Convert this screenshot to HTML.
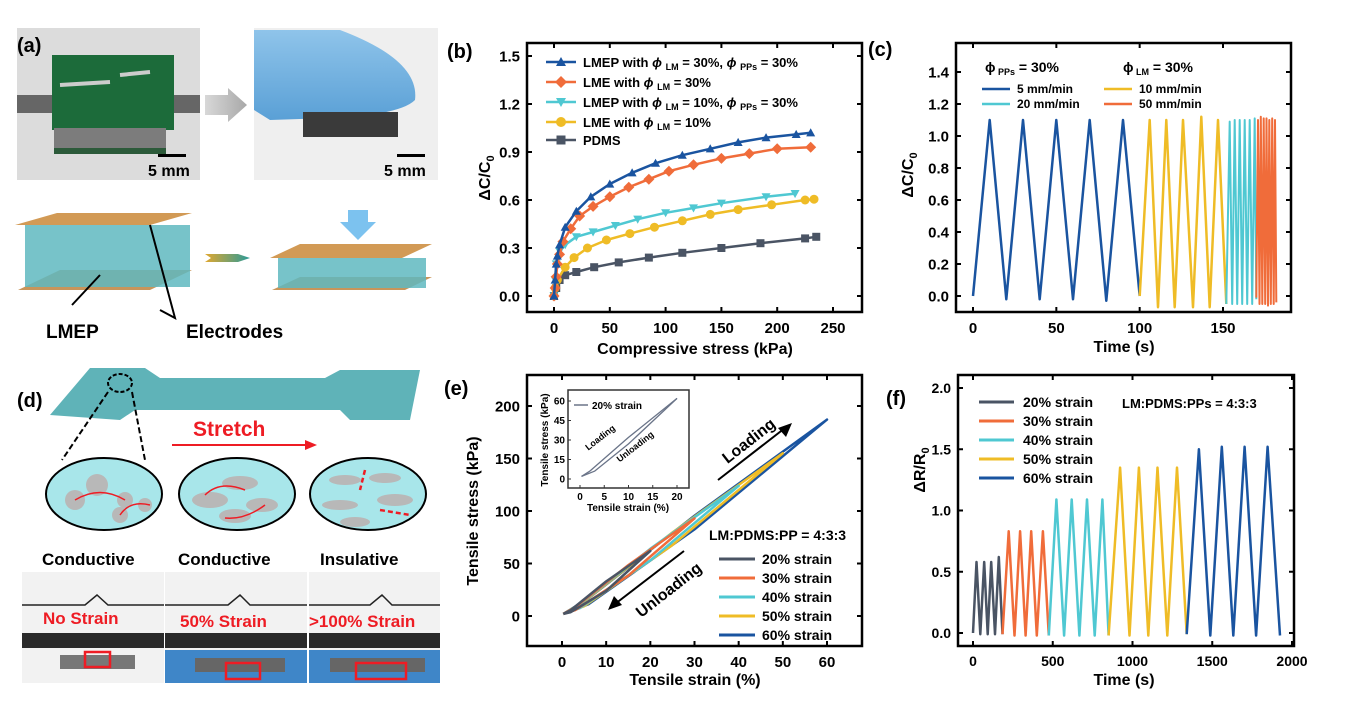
<!DOCTYPE html>
<html><head><meta charset="utf-8"><style>
html,body{margin:0;padding:0;background:#fff;}
svg{display:block;font-family:"Liberation Sans",Arial,sans-serif;font-weight:bold;}
</style></head><body>
<svg id="fig" width="1359" height="708" viewBox="0 0 1359 708" xmlns="http://www.w3.org/2000/svg">
<defs>
<linearGradient id="grayArrow" x1="0" x2="1"><stop offset="0" stop-color="#d8d8d8"/><stop offset="1" stop-color="#a8a8a8"/></linearGradient>
<linearGradient id="glove" x1="0" y1="0" x2="0" y2="1"><stop offset="0" stop-color="#8fc4ea"/><stop offset="1" stop-color="#5aa0d6"/></linearGradient>
<linearGradient id="tealArrow" x1="0" x2="1"><stop offset="0" stop-color="#e0a830"/><stop offset="1" stop-color="#2a9a98"/></linearGradient>
</defs>
<g>
 <rect x="17" y="28" width="183" height="152" fill="#dcdcdc"/>
 <rect x="17" y="95" width="183" height="18" fill="#333" opacity="0.7"/>
 <rect x="52" y="55" width="122" height="75" fill="#1c6b3a"/>
 <rect x="54" y="128" width="112" height="22" fill="#7c7c7c"/>
 <rect x="54" y="148" width="112" height="6" fill="#2c5a3a"/>
 <path d="M60 85 L110 82 M120 75 L150 72" stroke="#ccc" stroke-width="4"/>
 <rect x="158" y="154" width="28" height="3" fill="#000"/>
 <text x="148" y="176" font-size="16">5 mm</text>
 <text x="17" y="52" font-size="20">(a)</text>
 <polygon points="205,95 228,95 228,88 247,105 228,122 228,115 205,115" fill="url(#grayArrow)"/>
 <rect x="254" y="28" width="184" height="152" fill="#efefef"/>
 <path d="M254 30 L340 30 Q420 60 415 100 Q400 115 330 118 L270 120 L254 110 Z" fill="url(#glove)"/>
 <rect x="303" y="112" width="95" height="25" fill="#3a3a3a"/>
 <rect x="397" y="154" width="28" height="3" fill="#000"/>
 <text x="384" y="176" font-size="16">5 mm</text>
 <polygon points="18,290 150,290 192,270 60,270" fill="#c8955a"/>
 <rect x="25" y="225" width="165" height="62" fill="#5fb9c0" opacity="0.85"/>
 <polygon points="15,225 150,225 192,213 57,213" fill="#d29a55"/>
 <polygon points="205,254 238,254 250,258 238,262 205,262 211,258" fill="url(#tealArrow)"/>
 <polygon points="272,290 405,290 432,277 300,277" fill="#c8955a"/>
 <rect x="278" y="258" width="148" height="30" fill="#5fb9c0" opacity="0.85"/>
 <polygon points="270,258 402,258 432,244 300,244" fill="#d29a55"/>
 <polygon points="348,210 368,210 368,222 376,222 358,240 340,222 348,222" fill="#7cc2ef"/>
 <path d="M100 275 L72 305 M150 225 L175 318 L160 310" stroke="#000" stroke-width="2" fill="none"/>
 <text x="46" y="338" font-size="19">LMEP</text>
 <text x="186" y="338" font-size="19">Electrodes</text>
</g>
<g>
 <path d="M50 415 L90 368 L145 368 L160 378 L325 378 L340 370 L420 370 L410 420 L350 420 L340 410 L135 410 L120 420 Z" fill="#5fb3b8"/>
 <ellipse cx="120" cy="383" rx="12" ry="9" fill="none" stroke="#000" stroke-width="2" stroke-dasharray="4,2"/>
 <text x="17" y="407" font-size="20">(d)</text>
 <path d="M108 392 L62 460 M132 392 L145 460" stroke="#000" stroke-width="2" stroke-dasharray="6,3"/>
 <text x="193" y="436" font-size="21" fill="#ee1c24">Stretch</text>
 <line x1="172" y1="445" x2="305" y2="445" stroke="#ee1c24" stroke-width="2"/>
 <polygon points="305,440 317,445 305,450" fill="#ee1c24"/>
 <ellipse cx="104" cy="494" rx="58" ry="36" fill="#a8e6ea" stroke="#000" stroke-width="2"/>
 <ellipse cx="237" cy="494" rx="58" ry="36" fill="#a8e6ea" stroke="#000" stroke-width="2"/>
 <ellipse cx="368" cy="494" rx="58" ry="36" fill="#a8e6ea" stroke="#000" stroke-width="2"/>
 <g fill="#b8b8b8"><circle cx="75" cy="500" r="10"/><circle cx="97" cy="485" r="11"/><circle cx="125" cy="500" r="8"/><circle cx="120" cy="515" r="8"/><circle cx="145" cy="505" r="7"/>
 <ellipse cx="210" cy="500" rx="18" ry="8"/><ellipse cx="240" cy="483" rx="18" ry="7"/><ellipse cx="262" cy="505" rx="16" ry="7"/><ellipse cx="235" cy="516" rx="16" ry="7"/>
 <ellipse cx="345" cy="480" rx="16" ry="5"/><ellipse cx="385" cy="478" rx="16" ry="5"/><ellipse cx="340" cy="505" rx="18" ry="5"/><ellipse cx="395" cy="500" rx="18" ry="6"/><ellipse cx="355" cy="522" rx="15" ry="5"/></g>
 <path d="M75 500 Q100 485 125 500 M120 515 Q130 500 150 505 M205 495 Q220 480 245 490 M225 518 Q245 520 265 505" stroke="#ee1c24" stroke-width="1.5" fill="none"/>
 <path d="M365 470 L360 490 M380 510 L410 515" stroke="#ee1c24" stroke-width="2.5" stroke-dasharray="5,3"/>
 <text x="42" y="565" font-size="17">Conductive</text>
 <text x="178" y="565" font-size="17">Conductive</text>
 <text x="320" y="565" font-size="17">Insulative</text>
 <rect x="22" y="572" width="142" height="111" fill="#f2f2f2"/>
 <rect x="165" y="572" width="142" height="111" fill="#f2f2f2"/>
 <rect x="309" y="572" width="131" height="111" fill="#f2f2f2"/>
 <g stroke-width="1.5" fill="none"><path d="M22 605 L85 605 L97 595 L108 605 L164 605 M165 605 L228 605 L240 595 L250 605 L307 605 M309 605 L370 605 L382 595 L392 605 L440 605" stroke="#222"/></g>
 <rect x="22" y="633" width="142" height="15" fill="#2a2a2a"/><rect x="165" y="633" width="142" height="15" fill="#2a2a2a"/><rect x="309" y="633" width="131" height="15" fill="#2a2a2a"/>
 <rect x="165" y="650" width="142" height="33" fill="#3f86c8"/><rect x="309" y="650" width="131" height="33" fill="#3f86c8"/>
 <rect x="60" y="655" width="75" height="14" fill="#777"/><rect x="195" y="658" width="90" height="14" fill="#666"/><rect x="330" y="658" width="95" height="14" fill="#666"/>
 <rect x="85" y="652" width="25" height="15" fill="none" stroke="#ee1c24" stroke-width="2.5"/>
 <rect x="226" y="663" width="34" height="16" fill="none" stroke="#ee1c24" stroke-width="2.5"/>
 <rect x="356" y="663" width="50" height="16" fill="none" stroke="#ee1c24" stroke-width="2.5"/>
 <text x="43" y="624" font-size="17" fill="#ee1c24">No Strain</text>
 <text x="180" y="627" font-size="17" fill="#ee1c24">50% Strain</text>
 <text x="309" y="627" font-size="17" fill="#ee1c24">&gt;100% Strain</text>
</g>
<g id="charts"></g>
</svg>
<script>
var bBlueX = [0,1,2,3,5,10,20,33,50,70,91,115,140,165,190,217,230];
var bBlueY = [0,0.1,0.2,0.25,0.32,0.43,0.53,0.62,0.7,0.77,0.83,0.88,0.92,0.96,0.99,1.01,1.02];
var bOrangeX = [0,1,2,3,5,8,15,23,35,50,67,85,103,125,150,175,200,230];
var bOrangeY = [0,0.05,0.12,0.2,0.26,0.34,0.42,0.5,0.56,0.62,0.68,0.73,0.78,0.82,0.86,0.89,0.92,0.93];
var bCyanX = [0,1,2,5,10,20,35,55,75,100,125,150,190,216];
var bCyanY = [0,0.1,0.2,0.28,0.32,0.37,0.4,0.44,0.48,0.52,0.55,0.58,0.62,0.64];
var bYellowX = [0,1,3,10,18,30,47,68,90,115,140,165,195,225,233];
var bYellowY = [0,0.05,0.1,0.18,0.24,0.3,0.35,0.39,0.43,0.47,0.51,0.54,0.57,0.6,0.605];
var bPdmsX = [0,2,5,10,20,36,58,85,115,150,185,225,235];
var bPdmsY = [0,0.05,0.1,0.13,0.15,0.18,0.21,0.24,0.27,0.3,0.33,0.36,0.37];
var bXTicks = [0,50,100,150,200,250];
var bYTicks = [0,0.3,0.6,0.9,1.2,1.5];
var bYTickLabels = ["0.0","0.3","0.6","0.9","1.2","1.5"];
var cBlueT = [0,10,20,30,40,50,60,70,80,90,100];
var cBlueV = [0,1.1,-0.02,1.1,-0.02,1.1,-0.02,1.1,-0.03,1.1,0];
var cYellowT = [100,106,111,116,121,126,132,137,142,147,152];
var cYellowV = [0,1.1,-0.07,1.1,-0.07,1.1,-0.07,1.12,-0.07,1.1,-0.05];
var cCyanT = [152,154,155.5,157,158.5,160,161.5,163,164.5,166,167.5,169,170];
var cCyanV = [-0.05,1.09,-0.05,1.1,-0.05,1.1,-0.05,1.1,-0.05,1.1,-0.05,1.11,-0.02];
var cOrangeT = [170,171,171.9,172.7,173.6,174.4,175.3,176.1,177,177.8,178.7,179.5,180.4,181.2,182];
var cOrangeV = [-0.01,1.1,-0.05,1.12,-0.05,1.11,-0.05,1.11,-0.06,1.1,-0.05,1.11,-0.05,1.1,-0.04];
var cXTicks = [0,50,100,150];
var cYTicks = [0,0.2,0.4,0.6,0.8,1.0,1.2,1.4];
var cYTickLabels = ["0.0","0.2","0.4","0.6","0.8","1.0","1.2","1.4"];
var eMaxStrain = [20,30,40,50,60];
var eMaxStress = [62,93,124,155,187];
var eXTicks = [0,10,20,30,40,50,60];
var eYTicks = [0,50,100,150,200];
var eInsetXTicks = [0,5,10,15,20];
var eInsetYTicks = [0,15,30,45,60];
var fGrayT = [0,22,46,70,92,114,138,162,185];
var fGrayV = [0,0.58,-0.01,0.58,-0.01,0.58,-0.01,0.62,-0.01];
var fOrangeT = [185,224,260,295,330,365,400,438,475];
var fOrangeV = [-0.01,0.83,-0.02,0.83,-0.02,0.83,-0.02,0.83,-0.02];
var fCyanT = [475,523,571,619,667,715,763,811,850];
var fCyanV = [-0.02,1.09,-0.02,1.09,-0.02,1.09,-0.02,1.09,-0.02];
var fYellowT = [850,922,981,1040,1099,1157,1218,1279,1340];
var fYellowV = [-0.02,1.35,-0.02,1.35,-0.02,1.35,-0.02,1.35,-0.01];
var fBlueT = [1340,1416,1488,1560,1632,1703,1775,1847,1925];
var fBlueV = [-0.01,1.5,-0.02,1.52,-0.02,1.52,-0.02,1.52,-0.02];
var fXTicks = [0,500,1000,1500,2000];
var fYTicks = [0,0.5,1.0,1.5,2.0];
var fYTickLabels = ["0.0","0.5","1.0","1.5","2.0"];

var NS = "http://www.w3.org/2000/svg";
var root = document.getElementById('charts');
function mk(tag, attrs, parent) {
  var el = document.createElementNS(NS, tag);
  for (var k in attrs) el.setAttribute(k, attrs[k]);
  (parent || root).appendChild(el);
  return el;
}
function txt(s, x, y, size, anchor, parent, name) {
  var t = mk('text', {x:x, y:y, 'font-size':size, 'text-anchor':anchor||'start'}, parent);
  t.textContent = s;
  
  
  return t;
}
function lin(d0, d1, p0, p1) { return function(v){ return p0 + (v - d0) * (p1 - p0) / (d1 - d0); }; }
function frame(x0, y0, x1, y1, name) {
  var r = mk('rect', {x:x0, y:y0, width:x1-x0, height:y1-y0, fill:'none', stroke:'#000', 'stroke-width':2.5});
  
  
}
function axes(g, box, sx, sy, xt, xl, yt, yl, fs, pre) {
  for (var i = 0; i < xt.length; i++) {
    var x = sx(xt[i]);
    mk('line', {x1:x, y1:box[3], x2:x, y2:box[3]-5, stroke:'#000', 'stroke-width':2}, g);
    mk('line', {x1:x, y1:box[1], x2:x, y2:box[1]+5, stroke:'#000', 'stroke-width':2}, g);
    txt(xl ? xl[i] : String(xt[i]), x, box[3]+fs+6, fs, 'middle', g, pre+'-x-tick-label');
  }
  for (var j = 0; j < yt.length; j++) {
    var y = sy(yt[j]);
    mk('line', {x1:box[0], y1:y, x2:box[0]+5, y2:y, stroke:'#000', 'stroke-width':2}, g);
    mk('line', {x1:box[2], y1:y, x2:box[2]-5, y2:y, stroke:'#000', 'stroke-width':2}, g);
    txt(yl ? yl[j] : String(yt[j]), box[0]-7, y+fs*0.36, fs, 'end', g, pre+'-y-tick-label');
  }
}
function series(xs, ys, sx, sy, color, g, name, w) {
  var pts = [];
  for (var i = 0; i < xs.length; i++) pts.push(sx(xs[i]).toFixed(1) + ',' + sy(ys[i]).toFixed(1));
  var p = mk('polyline', {points:pts.join(' '), fill:'none', stroke:color, 'stroke-width':w||2.5, 'stroke-linejoin':'round'}, g);
  
  
  return p;
}
function marker(type, x, y, color, g, s) {
  s = s || 5;
  var el;
  if (type === 'tri') el = mk('polygon', {points:(x)+','+(y-s)+' '+(x-s)+','+(y+s*0.8)+' '+(x+s)+','+(y+s*0.8), fill:color}, g);
  else if (type === 'dtri') el = mk('polygon', {points:(x)+','+(y+s)+' '+(x-s)+','+(y-s*0.8)+' '+(x+s)+','+(y-s*0.8), fill:color}, g);
  else if (type === 'dia') el = mk('polygon', {points:x+','+(y-s-1)+' '+(x+s+1)+','+y+' '+x+','+(y+s+1)+' '+(x-s-1)+','+y, fill:color}, g);
  else if (type === 'circ') el = mk('circle', {cx:x, cy:y, r:s, fill:color}, g);
  else el = mk('rect', {x:x-s+0.5, y:y-s+0.5, width:2*s-1, height:2*s-1, fill:color}, g);
  
  
}

(function(){
  var g = mk('g', {});
  
  
  var box = [527, 43, 862, 312];
  var sx = lin(0, 250, 554, 833), sy = lin(0, 1.5, 296, 56);
  txt('(b)', 447, 58, 20, 'start', g, 'panel-label-b');
  var S = [[bPdmsX,bPdmsY,'#4a5464','sq','pdms'],[bYellowX,bYellowY,'#efbc26','circ','lme-10'],[bCyanX,bCyanY,'#4fc8d2','dtri','lmep-10'],[bOrangeX,bOrangeY,'#f06c3a','dia','lme-30'],[bBlueX,bBlueY,'#1a54a0','tri','lmep-30']];
  for (var i = 0; i < S.length; i++) {
    series(S[i][0], S[i][1], sx, sy, S[i][2], g, 'series-' + S[i][4]);
    for (var k = 0; k < S[i][0].length; k++) marker(S[i][3], sx(S[i][0][k]), sy(S[i][1][k]), S[i][2], g, 4.5);
  }
  frame(box[0], box[1], box[2], box[3], 'panel-b-frame');
  axes(g, box, sx, sy, bXTicks, null, bYTicks, bYTickLabels, 15, 'b');
  txt('Compressive stress (kPa)', 695, 354, 16, 'middle', g, 'b-x-axis-title');
  var yt = txt('ΔC/C', 0, 0, 16, 'middle', g, 'b-y-axis-title');
  yt.setAttribute('transform', 'translate(490,178) rotate(-90)');
  var sub = mk('tspan', {'font-size':11, dy:4}, yt); sub.textContent = '0';
  var L = [['#1a54a0','tri','LMEP with ','LM',' = 30%, ','PPs',' = 30%'],['#f06c3a','dia','LME with ','LM',' = 30%'],['#4fc8d2','dtri','LMEP with ','LM',' = 10%, ','PPs',' = 30%'],['#efbc26','circ','LME with ','LM',' = 10%'],['#4a5464','sq','PDMS']];
  var ly = [62,82,102,122,140];
  for (var j = 0; j < L.length; j++) {
    var le = mk('line', {x1:546, y1:ly[j], x2:576, y2:ly[j], stroke:L[j][0], 'stroke-width':2.5}, g);
    
    
    marker(L[j][1], 561, ly[j], L[j][0], g, 5);
    var t = txt('', 583, ly[j]+5, 13, 'start', g, 'b-legend-entry');
    for (var m = 2; m < L[j].length; m++) {
      var sp;
      if (m % 2 === 1) { sp = mk('tspan', {'font-size':9, dy:3}, t); sp.textContent = L[j][m]; }
      else { sp = mk('tspan', {dy: m > 2 ? -3 : 0}, t); sp.textContent = L[j][m]; }
      if (m % 2 === 0 && m + 1 < L[j].length) { var ph = mk('tspan', {'font-style':'italic'}, t); ph.textContent = 'ϕ '; }
    }
  }
})();

(function(){
  var g = mk('g', {});
  
  
  var box = [956, 43, 1291, 312];
  var sx = lin(0, 150, 973, 1223), sy = lin(0, 1.4, 296, 72);
  txt('(c)', 868, 56, 20, 'start', g, 'panel-label-c');
  series(cBlueT, cBlueV, sx, sy, '#1a54a0', g, 'series-5mm');
  series(cYellowT, cYellowV, sx, sy, '#efbc26', g, 'series-10mm');
  series(cCyanT, cCyanV, sx, sy, '#4fc8d2', g, 'series-20mm', 2);
  series(cOrangeT, cOrangeV, sx, sy, '#f06c3a', g, 'series-50mm', 2);
  frame(box[0], box[1], box[2], box[3], 'panel-c-frame');
  axes(g, box, sx, sy, cXTicks, null, cYTicks, cYTickLabels, 15, 'c');
  txt('Time (s)', 1124, 352, 16, 'middle', g, 'c-x-axis-title');
  var yt = txt('ΔC/C', 0, 0, 16, 'middle', g, 'c-y-axis-title');
  yt.setAttribute('transform', 'translate(913,175) rotate(-90)');
  var sub = mk('tspan', {'font-size':11, dy:4}, yt); sub.textContent = '0';
  var h1 = txt('ϕ', 985, 72, 14, 'start', g, 'c-legend-header-pps');
  var a = mk('tspan', {'font-size':9, dy:3}, h1); a.textContent = ' PPs';
  var b = mk('tspan', {dy:-3}, h1); b.textContent = ' = 30%';
  var h2 = txt('ϕ', 1123, 72, 14, 'start', g, 'c-legend-header-lm');
  var a2 = mk('tspan', {'font-size':9, dy:3}, h2); a2.textContent = ' LM';
  var b2 = mk('tspan', {dy:-3}, h2); b2.textContent = ' = 30%';
  var L = [['#1a54a0','5 mm/min',982,89],['#4fc8d2','20 mm/min',982,104],['#efbc26','10 mm/min',1104,89],['#f06c3a','50 mm/min',1104,104]];
  for (var j = 0; j < L.length; j++) {
    var le = mk('line', {x1:L[j][2], y1:L[j][3], x2:L[j][2]+28, y2:L[j][3], stroke:L[j][0], 'stroke-width':2.5}, g);
    
    
    txt(L[j][1], L[j][2]+35, L[j][3]+4, 12, 'start', g, 'c-legend-entry');
  }
})();

(function(){
  var g = mk('g', {});
  
  
  var box = [527, 375, 862, 646];
  var sx = lin(0, 60, 562, 827), sy = lin(0, 200, 616, 406);
  txt('(e)', 444, 395, 20, 'start', g, 'panel-label-e');
  var colors = ['#4a5464','#f06c3a','#4fc8d2','#efbc26','#1a54a0'];
  for (var i = eMaxStrain.length - 1; i >= 0; i--) {
    var s = eMaxStrain[i], st = eMaxStress[i];
    var up = [0.3, s*0.1, s*0.5, s], upv = [2, st*0.09, st*0.5 + 2, st];
    var dn = [s, s*0.5, s*0.1, 0.3], dnv = [st, st*0.5 - 5 - s*0.1, st*0.06, 2];
    series(up.concat(dn), upv.concat(dnv), sx, sy, colors[i], g, 'loop-' + s + '-strain', 2.5);
  }
  frame(box[0], box[1], box[2], box[3], 'panel-e-frame');
  axes(g, box, sx, sy, eXTicks, null, eYTicks, null, 15, 'e');
  txt('Tensile strain  (%)', 695, 685, 16, 'middle', g, 'e-x-axis-title');
  var yt = txt('Tensile stress (kPa)', 0, 0, 16, 'middle', g, 'e-y-axis-title');
  yt.setAttribute('transform', 'translate(478,511) rotate(-90)');
  mk('line', {x1:718, y1:480, x2:785, y2:428, stroke:'#000', 'stroke-width':2}, g);
  mk('polygon', {points:'792,423 778,428 786,437', fill:'#000'}, g);
  var t1 = txt('Loading', 0, 0, 16, 'middle', g, 'loading-label'); t1.setAttribute('transform', 'translate(752,445) rotate(-38)');
  mk('line', {x1:684, y1:551, x2:615, y2:604, stroke:'#000', 'stroke-width':2}, g);
  mk('polygon', {points:'608,610 622,605 614,596', fill:'#000'}, g);
  var t2 = txt('Unloading', 0, 0, 16, 'middle', g, 'unloading-label'); t2.setAttribute('transform', 'translate(672,594) rotate(-38)');
  txt('LM:PDMS:PP = 4:3:3', 709, 540, 14, 'start', g, 'e-legend-title');
  var labels = ['20% strain','30% strain','40% strain','50% strain','60% strain'];
  for (var j = 0; j < 5; j++) {
    var y = 559 + j * 19;
    var le = mk('line', {x1:719, y1:y, x2:755, y2:y, stroke:colors[j], 'stroke-width':3}, g);
    
    
    txt(labels[j], 762, y+5, 14, 'start', g, 'e-legend-entry');
  }
  var ig = mk('g', {}, g);
  
  
  var ib = [568, 390, 689, 488];
  var isx = lin(0, 20, 580, 677), isy = lin(0, 60, 479, 401);
  mk('rect', {x:ib[0], y:ib[1], width:ib[2]-ib[0], height:ib[3]-ib[1], fill:'#fff', stroke:'#333', 'stroke-width':1.5}, ig);
  series([0.3,2,10,20], [2,6,32,62], isx, isy, '#6a7488', ig, 'inset-loading', 1.3);
  series([20,10,3,0.3], [62,27,6,2], isx, isy, '#6a7488', ig, 'inset-unloading', 1.3);
  for (var a = 0; a < eInsetXTicks.length; a++) {
    mk('line', {x1:isx(eInsetXTicks[a]), y1:ib[3], x2:isx(eInsetXTicks[a]), y2:ib[3]-3, stroke:'#333'}, ig);
    txt(String(eInsetXTicks[a]), isx(eInsetXTicks[a]), ib[3]+12, 10, 'middle', ig, 'inset-x-tick-label');
  }
  for (var b = 0; b < eInsetYTicks.length; b++) {
    mk('line', {x1:ib[0], y1:isy(eInsetYTicks[b]), x2:ib[0]+3, y2:isy(eInsetYTicks[b]), stroke:'#333'}, ig);
    txt(String(eInsetYTicks[b]), ib[0]-3, isy(eInsetYTicks[b])+3.5, 10, 'end', ig, 'inset-y-tick-label');
  }
  txt('Tensile strain (%)', 628, 511, 10, 'middle', ig, 'inset-x-axis-title');
  var iy = txt('Tensile stress (kPa)', 0, 0, 10, 'middle', ig, 'inset-y-axis-title'); iy.setAttribute('transform', 'translate(548,440) rotate(-90)');
  mk('line', {x1:574, y1:405, x2:588, y2:405, stroke:'#6a7488', 'stroke-width':1.5}, ig);
  txt('20% strain', 592, 409, 10, 'start', ig, 'inset-legend-entry');
  var il = txt('Loading', 0, 0, 9, 'middle', ig, 'inset-loading-label'); il.setAttribute('transform', 'translate(602,440) rotate(-38)');
  var iu = txt('Unloading', 0, 0, 9, 'middle', ig, 'inset-unloading-label'); iu.setAttribute('transform', 'translate(637,449) rotate(-38)');
})();

(function(){
  var g = mk('g', {});
  
  
  var box = [958, 375, 1294, 646];
  var sx = lin(0, 2000, 973, 1292), sy = lin(0, 2.0, 633, 388);
  txt('(f)', 886, 405, 20, 'start', g, 'panel-label-f');
  series(fGrayT, fGrayV, sx, sy, '#4a5464', g, 'series-20-strain');
  series(fOrangeT, fOrangeV, sx, sy, '#f06c3a', g, 'series-30-strain');
  series(fCyanT, fCyanV, sx, sy, '#4fc8d2', g, 'series-40-strain');
  series(fYellowT, fYellowV, sx, sy, '#efbc26', g, 'series-50-strain');
  series(fBlueT, fBlueV, sx, sy, '#1a54a0', g, 'series-60-strain');
  frame(box[0], box[1], box[2], box[3], 'panel-f-frame');
  axes(g, box, sx, sy, fXTicks, null, fYTicks, fYTickLabels, 14, 'f');
  txt('Time (s)', 1124, 685, 16, 'middle', g, 'f-x-axis-title');
  var yt = txt('ΔR/R', 0, 0, 16, 'middle', g, 'f-y-axis-title');
  yt.setAttribute('transform', 'translate(925,470) rotate(-90)');
  var sub = mk('tspan', {'font-size':11, dy:4}, yt); sub.textContent = '0';
  txt('LM:PDMS:PPs = 4:3:3', 1122, 408, 13, 'start', g, 'f-legend-title');
  var colors = ['#4a5464','#f06c3a','#4fc8d2','#efbc26','#1a54a0'];
  var labels = ['20% strain','30% strain','40% strain','50% strain','60% strain'];
  for (var j = 0; j < 5; j++) {
    var y = 402 + j * 19;
    var le = mk('line', {x1:979, y1:y, x2:1014, y2:y, stroke:colors[j], 'stroke-width':3}, g);
    
    
    txt(labels[j], 1023, y+5, 14, 'start', g, 'f-legend-entry');
  }
})();
</script>
</body></html>
